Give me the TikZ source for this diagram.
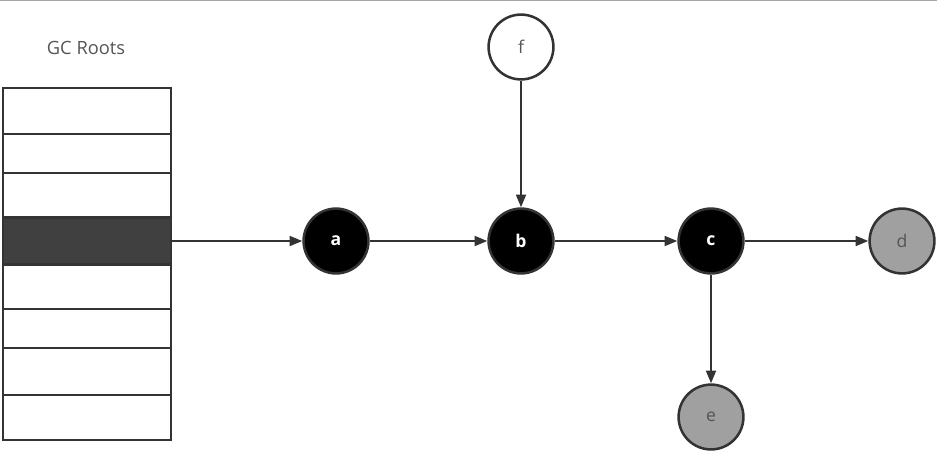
\documentclass[tikz,border=0pt]{standalone}
\usepackage{fontspec}
\setmainfont{Open Sans}
\usetikzlibrary{arrows.meta}
\definecolor{edgegray}{HTML}{333333}
\definecolor{deadgray}{HTML}{A0A0A0}
\definecolor{textgray}{HTML}{555555}
\tikzset{
  obj/.style={circle, draw=edgegray, line width=1.8pt, minimum size=1.62cm, inner sep=0pt, font=\fontsize{12.5}{14}\selectfont},
  live/.style={obj, fill=black, text=white, font=\fontsize{12.5}{14}\selectfont\bfseries},
  dead/.style={obj, fill=deadgray, text=textgray},
  free/.style={obj, fill=white, text=textgray},
  ref/.style={-{Triangle[length=9pt,width=7pt]}, draw=edgegray, line width=1.5pt},
}
\begin{document}
\begin{tikzpicture}[x=0.025cm, y=-0.025cm]
\useasboundingbox (0,0) rectangle (937,462);
\draw[gray!70, line width=0.8pt] (0,0.5) -- (937,0.5);
\node[text=textgray, font=\fontsize{13}{15}\selectfont] (title) at (86,48) {GC Roots};
\draw[edgegray, line width=1.6pt] (3,88) rectangle (171,440);
\node[draw=edgegray, line width=1.6pt, fill=black!75, minimum width=4.2cm, minimum height=1.175cm, inner sep=0pt] (root) at (87,241) {};
\draw[edgegray, line width=1.6pt] (3,134) -- (171,134);
\draw[edgegray, line width=1.6pt] (3,173) -- (171,173);
\draw[edgegray, line width=1.6pt] (3,309) -- (171,309);
\draw[edgegray, line width=1.6pt] (3,348) -- (171,348);
\draw[edgegray, line width=1.6pt] (3,395) -- (171,395);
\node[live] (a) at (336,241) {a};
\node[live] (b) at (521,241) {b};
\node[live] (c) at (711,241) {c};
\node[dead] (d) at (902,241) {d};
\node[dead] (e) at (711,417) {e};
\node[free] (f) at (521,47) {f};
\draw[ref] (root) -- (a);
\draw[ref] (a) -- (b);
\draw[ref] (f) -- (b);
\draw[ref] (b) -- (c);
\draw[ref] (c) -- (d);
\draw[ref] (c) -- (e);
\end{tikzpicture}
\end{document}
